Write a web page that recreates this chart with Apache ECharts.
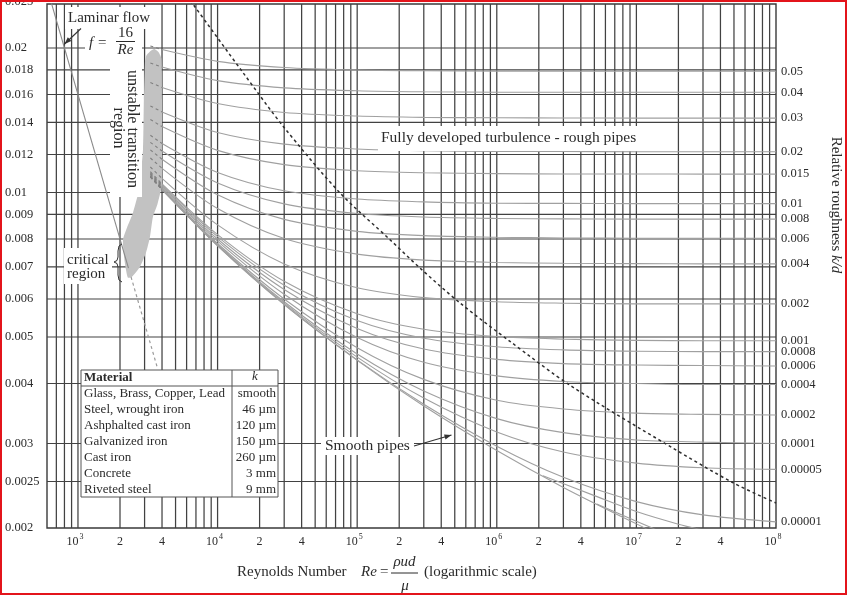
<!DOCTYPE html>
<html><head><meta charset="utf-8">
<script src="https://cdn.jsdelivr.net/npm/echarts@6/dist/echarts.min.js"></script>
<style>html,body{margin:0;padding:0;background:#fff}#c{width:848px;height:596px}</style>
</head><body><div id="c"></div>
<script>
const FONT = '"Liberation Serif","Times New Roman",serif';
const X_MIN = 600, X_MAX = 1e8, Y_MIN = 0.002, Y_MAX = 0.0247;

// Reynolds numbers at which the friction-factor curves were read
const reSample = [3300, 4000, 1e4, 3e4, 1e5, 3e5, 1e6, 3e6, 1e7, 3e7, 1e8];
// Fanning friction factor read for each relative roughness k/d
const f_0_05    = [0.02020,0.01985,0.01876,0.01822,0.01800,0.01793,0.01790,0.01789,0.01789,0.01789,0.01789];
const f_0_04    = [0.01862,0.01825,0.01710,0.01652,0.01629,0.01621,0.01618,0.01617,0.01617,0.01617,0.01617];
const f_0_03    = [0.01695,0.01655,0.01532,0.01468,0.01443,0.01434,0.01431,0.01430,0.01429,0.01429,0.01429];
const f_0_02    = [0.01515,0.01472,0.01334,0.01261,0.01232,0.01222,0.01218,0.01217,0.01216,0.01216,0.01216];
const f_0_015   = [0.01419,0.01372,0.01224,0.01143,0.01110,0.01099,0.01095,0.01093,0.01093,0.01092,0.01092];
const f_0_01    = [0.01316,0.01265,0.01101,0.01008,0.00969,0.00956,0.00950,0.00949,0.00948,0.00948,0.00948];
const f_0_008   = [0.01272,0.01220,0.01047,0.00947,0.00904,0.00889,0.00883,0.00881,0.00880,0.00880,0.00880];
const f_0_006   = [0.01227,0.01173,0.00989,0.00879,0.00830,0.00813,0.00807,0.00804,0.00803,0.00803,0.00803];
const f_0_004   = [0.01180,0.01123,0.00926,0.00802,0.00744,0.00723,0.00715,0.00712,0.00711,0.00710,0.00710];
const f_0_002   = [0.01130,0.01070,0.00856,0.00710,0.00633,0.00604,0.00592,0.00588,0.00586,0.00586,0.00586];
const f_0_001   = [0.01105,0.01042,0.00817,0.00653,0.00559,0.00519,0.00501,0.00495,0.00492,0.00491,0.00491];
const f_0_0008  = [0.01099,0.01037,0.00809,0.00641,0.00541,0.00497,0.00477,0.00470,0.00467,0.00466,0.00466];
const f_0_0006  = [0.01094,0.01031,0.00800,0.00628,0.00521,0.00472,0.00449,0.00440,0.00437,0.00436,0.00435];
const f_0_0004  = [0.01089,0.01025,0.00792,0.00614,0.00499,0.00443,0.00415,0.00404,0.00400,0.00398,0.00398];
const f_0_0002  = [0.01083,0.01020,0.00783,0.00600,0.00475,0.00408,0.00369,0.00354,0.00347,0.00345,0.00344];
const f_0_0001  = [0.01081,0.01017,0.00779,0.00592,0.00461,0.00386,0.00338,0.00316,0.00305,0.00302,0.00300];
const f_0_00005 = [0.01079,0.01015,0.00777,0.00588,0.00454,0.00373,0.00317,0.00288,0.00273,0.00267,0.00265];
const f_0_00001 = [0.01078,0.01014,0.00775,0.00585,0.00448,0.00362,0.00296,0.00255,0.00227,0.00213,0.00206];
const f_smooth  = [0.01078,0.01014,0.00774,0.00584,0.00447,0.00359,0.00290,0.00243,0.00204,0.00175,0.00151];
const roughNames = ['0.05','0.04','0.03','0.02','0.015','0.01','0.008','0.006','0.004','0.002','0.001','0.0008','0.0006','0.0004','0.0002','0.0001','0.00005','0.00001'];

// unlabeled branches leaving the smooth-pipe curve near the bottom
const branchARe = [2.14e6, 5e6, 1e7, 2e7, 3e7];
const branchAF  = [0.00257, 0.002336, 0.002164, 0.002037, 0.001982];
const branchBRe = [5.2e6, 1e7, 2e7];
const branchBF  = [0.002245, 0.002065, 0.001896];

// laminar line f = 16/Re
const laminarRe = [600, 2300];
const laminarF  = [0.02667, 0.00696];
const laminarDashRe = [2400, 3700];
const laminarDashF  = [0.00667, 0.00432];

// dashed limit of fully developed turbulence
const boundaryRe = [6000, 6630, 15280, 29550, 75300, 171800, 281800, 545000, 1.243e6, 3.44e6, 1.741e7, 4.946e7, 1e8];
const boundaryF  = [0.0257, 0.02473, 0.01774, 0.01373, 0.00998, 0.007974, 0.00696, 0.005887, 0.004896, 0.003945, 0.002958, 0.002483, 0.002255];

// unstable transition region outline
const transRe = [3240,3503,3780,3960,4000,4000,3990,3700,3444,3280,3069,2781,2437,2282,2207,2135,2100,2244,2477,2735,2922,2971,3020,3090];
const transF  = [0.01960,0.01990,0.01960,0.01900,0.01560,0.01228,0.01038,0.009432,0.008904,0.008091,0.007491,0.007005,0.006677,0.006645,0.006905,0.007384,0.007976,0.008448,0.009077,0.01014,0.01228,0.01560,0.01873,0.01930];

// grid / tick values
const gridMantissas = [1,2,3,4,5,6,7,8,9];
const gridDecades = [100,1e3,1e4,1e5,1e6,1e7];
const yGrid = [0.0025,0.003,0.004,0.005,0.006,0.007,0.008,0.009,0.01,0.012,0.014,0.016,0.018,0.02];
const yLabelVals = [0.002,0.0025,0.003,0.004,0.005,0.006,0.007,0.008,0.009,0.01,0.012,0.014,0.016,0.018,0.02,0.025];
const yLabelText = ['0.002','0.0025','0.003','0.004','0.005','0.006','0.007','0.008','0.009','0.01','0.012','0.014','0.016','0.018','0.02','0.025'];
const xLabelVals = [1e3,2e3,4e3,1e4,2e4,4e4,1e5,2e5,4e5,1e6,2e6,4e6,1e7,2e7,4e7,1e8];
const xLabelText = ['10^3','2','4','10^4','2','4','10^5','2','4','10^6','2','4','10^7','2','4','10^8'];

// material table
const materials = ['Glass, Brass, Copper, Lead','Steel, wrought iron','Ashphalted cast iron','Galvanized iron','Cast iron','Concrete','Riveted steel'];
const materialK = ['smooth','46 \u00b5m','120 \u00b5m','150 \u00b5m','260 \u00b5m','3 mm','9 mm'];

const xGrid = [];
gridDecades.forEach(d => gridMantissas.forEach(m => { const v = m * d; if (v > X_MIN && v < X_MAX) xGrid.push(v); }));

const TXT = '#2b2b2b';
const GRIDC = '#424242';
const series = [];

series.push({
  type: 'custom', z: 1, silent: true, clip: false,
  data: xGrid.map(v => [v, Y_MIN]),
  renderItem: (params, api) => {
    const cs = params.coordSys; const x = api.coord([api.value(0), Y_MIN])[0];
    return {type: 'line', shape: {x1: x, y1: cs.y, x2: x, y2: cs.y + cs.height}, style: {stroke: GRIDC, lineWidth: 1.25}};
  }
});
series.push({
  type: 'custom', z: 1, silent: true, clip: false,
  data: yGrid.map(v => [X_MIN, v]),
  renderItem: (params, api) => {
    const cs = params.coordSys; const y = api.coord([X_MIN, api.value(1)])[1];
    return {type: 'line', shape: {x1: cs.x, y1: y, x2: cs.x + cs.width, y2: y}, style: {stroke: GRIDC, lineWidth: 1.2}};
  }
});
// transition region
series.push({
  type: 'custom', z: 2, silent: true,
  data: [[transRe[0], transF[0]]],
  renderItem: (params, api) => {
    const pts = transRe.map((r, i) => api.coord([r, transF[i]]));
    return {type: 'polygon', shape: {points: pts, smooth: 0.2}, style: {fill: '#c2c2c2'}};
  }
});
// y labels
series.push({
  type: 'custom', z: 5, silent: true, clip: false,
  data: yLabelVals.map(v => [X_MIN, v]),
  renderItem: (params, api) => {
    const y = api.coord([X_MIN, api.value(1)])[1];
    return {type: 'text', x: 5, y: y, style: {text: yLabelText[params.dataIndex], font: '12.5px ' + FONT, fill: TXT, align: 'left', verticalAlign: 'middle'}};
  }
});
// x labels
series.push({
  type: 'custom', z: 5, silent: true, clip: false,
  data: xLabelVals.map(v => [v, Y_MIN]),
  renderItem: (params, api) => {
    const p = api.coord([api.value(0), Y_MIN]);
    const t = xLabelText[params.dataIndex];
    const y = p[1] + 14;
    if (t.indexOf('^') >= 0) {
      const parts = t.split('^');
      return {type: 'group', children: [
        {type: 'text', x: p[0] + 0.5, y: y, style: {text: parts[0], font: '12px ' + FONT, fill: TXT, align: 'right', verticalAlign: 'middle'}},
        {type: 'text', x: p[0] + 1.5, y: y - 5, style: {text: parts[1], font: '8px ' + FONT, fill: TXT, align: 'left', verticalAlign: 'middle'}}
      ]};
    }
    return {type: 'text', x: p[0], y: y, style: {text: t, font: '12px ' + FONT, fill: TXT, align: 'center', verticalAlign: 'middle'}};
  }
});

const roughArrays = [f_0_05,f_0_04,f_0_03,f_0_02,f_0_015,f_0_01,f_0_008,f_0_006,f_0_004,f_0_002,f_0_001,f_0_0008,f_0_0006,f_0_0004,f_0_0002,f_0_0001,f_0_00005,f_0_00001];
const CURVE = '#a0a0a0';
function addCurve(arr, name) {
  series.push({
    type: 'line', name: name || 'smooth', z: 3, symbol: 'none', smooth: 0.3, silent: true,
    data: reSample.slice(1).map((r, j) => [r, arr[j + 1]]),
    lineStyle: {color: CURVE, width: 1.1},
    endLabel: name ? {show: true, formatter: () => name, color: TXT, fontFamily: FONT, fontSize: 12.5, distance: 5} : {show: false}
  });
  series.push({
    type: 'line', z: 3, symbol: 'none', silent: true,
    data: [[reSample[0], arr[0]], [reSample[1], arr[1]]],
    lineStyle: {color: '#808080', width: 1.1, type: [3, 3]}
  });
}
roughArrays.forEach((a, i) => addCurve(a, roughNames[i]));
addCurve(f_smooth, null);
[[branchARe, branchAF], [branchBRe, branchBF]].forEach(([rs, fs]) => {
  series.push({type: 'line', z: 3, symbol: 'none', smooth: 0.3, silent: true,
    data: rs.map((r, i) => [r, fs[i]]), lineStyle: {color: CURVE, width: 1.1}});
});

series.push({type: 'line', z: 3, symbol: 'none', silent: true,
  data: laminarRe.map((r, i) => [r, laminarF[i]]), lineStyle: {color: '#8a8a8a', width: 1.1}});
series.push({type: 'line', z: 3, symbol: 'none', silent: true,
  data: laminarDashRe.map((r, i) => [r, laminarDashF[i]]), lineStyle: {color: '#9a9a9a', width: 1.2, type: [3, 3]}});
series.push({type: 'line', z: 4, symbol: 'none', smooth: 0.3, silent: true,
  data: boundaryRe.map((r, i) => [r, boundaryF[i]]), lineStyle: {color: '#2e2e2e', width: 1.5, type: [3, 3]}});

// annotations
const g = [];
function bg(x, y, w, h) { g.push({type: 'rect', z: 50, shape: {x, y, width: w, height: h}, style: {fill: '#fff'}}); }
function txt(x, y, text, size, opts) {
  const el = {type: 'text', z: 60, x, y, style: Object.assign({text, font: size + 'px ' + FONT, fill: TXT, align: 'left', verticalAlign: 'middle'}, (opts && opts.style) || {})};
  if (opts && opts.rotation !== undefined) el.rotation = opts.rotation;
  g.push(el);
}
function arrow(x1, y1, x2, y2) {
  g.push({type: 'line', z: 60, shape: {x1, y1, x2, y2}, style: {stroke: '#333', lineWidth: 1.1}});
  const a = Math.atan2(y2 - y1, x2 - x1), L = 7, W = 2.6;
  const bx = x2 - L * Math.cos(a), by = y2 - L * Math.sin(a);
  g.push({type: 'polygon', z: 60, shape: {points: [[x2, y2], [bx + W * Math.sin(a), by - W * Math.cos(a)], [bx - W * Math.sin(a), by + W * Math.cos(a)]]}, style: {fill: '#333'}});
}
// Laminar flow
bg(65, 7, 92, 22); txt(68, 18, 'Laminar flow', 15);
bg(85, 25, 52, 34);
txt(89, 43, 'f', 15, {style: {font: 'italic 15px ' + FONT}}); txt(98, 43, '=', 15);
txt(125.5, 33, '16', 15, {style: {align: 'center'}});
g.push({type: 'line', z: 60, shape: {x1: 116, y1: 41.5, x2: 135, y2: 41.5}, style: {stroke: TXT, lineWidth: 1}});
txt(125.5, 50, 'Re', 15, {style: {align: 'center', font: 'italic 15px ' + FONT}});
arrow(81, 28.5, 64.5, 44);
// transition
bg(110, 33, 32, 164);
txt(132, 129, 'unstable transition', 16, {rotation: -Math.PI / 2, style: {align: 'center'}});
txt(118, 128, 'region', 16, {rotation: -Math.PI / 2, style: {align: 'center'}});
// critical region
bg(64, 248, 48, 36);
txt(67, 260, 'critical', 15); txt(67, 274.5, 'region', 15);
g.push({type: 'polyline', z: 60, shape: {points: [[122,244],[119,246],[118,251],[118,257],[117,260.5],[114,262],[117,263.5],[118,267],[118,275],[119,280],[122,282]]}, style: {stroke: '#333', fill: null, lineWidth: 1}});
// rough pipes
bg(378, 126, 294, 25); txt(381, 137.5, 'Fully developed turbulence - rough pipes', 15.5);
// smooth pipes
bg(321, 437, 93, 18); txt(325, 445.5, 'Smooth pipes', 15.5);
arrow(414, 446, 451.5, 435);
// table
g.push({type: 'rect', z: 50, shape: {x: 81, y: 370, width: 197, height: 127}, style: {fill: '#fff', stroke: '#555', lineWidth: 1}});
g.push({type: 'line', z: 55, shape: {x1: 232, y1: 370, x2: 232, y2: 497}, style: {stroke: '#555', lineWidth: 1}});
g.push({type: 'line', z: 55, shape: {x1: 81, y1: 386, x2: 278, y2: 386}, style: {stroke: '#555', lineWidth: 1}});
txt(84, 378, 'Material', 13, {style: {font: 'bold 13px ' + FONT}});
txt(255, 377, 'k', 13, {style: {align: 'center', font: 'italic 13px ' + FONT}});
materials.forEach((m, i) => {
  const y = 394 + i * 15.85;
  txt(84, y, m, 13);
  txt(276, y, materialK[i], 13, {style: {align: 'right'}});
});
// axis titles
txt(237, 572.5, 'Reynolds Number', 15);
txt(361, 572.5, 'Re', 15, {style: {font: 'italic 15px ' + FONT}});
txt(380, 572.5, '=', 15);
txt(404.5, 562, '\u03c1ud', 15, {style: {align: 'center', font: 'italic 15px ' + FONT}});
g.push({type: 'line', z: 60, shape: {x1: 391, y1: 573, x2: 418, y2: 573}, style: {stroke: TXT, lineWidth: 1}});
txt(405, 586, '\u03bc', 15, {style: {align: 'center', font: 'italic 15px ' + FONT}});
txt(424, 572.5, '(logarithmic scale)', 15);
g.push({type: 'text', z: 60, x: 836, y: 205, rotation: -Math.PI / 2,
  style: {text: 'Relative roughness {i|k/d}', font: '15px ' + FONT, fill: TXT, align: 'center', verticalAlign: 'middle',
    rich: {i: {font: 'italic 15px ' + FONT, fill: TXT}}}});
// screenshot frame
g.push({type: 'rect', z: 100, shape: {x: 1, y: 1, width: 845, height: 593}, style: {fill: null, stroke: '#e3141b', lineWidth: 2}});

const chart = echarts.init(document.getElementById('c'), null, {renderer: 'canvas'});
chart.setOption({
  animation: false,
  backgroundColor: '#fff',
  grid: {left: 47, top: 4, width: 729, height: 524, show: true, borderColor: '#3a3a3a', borderWidth: 1.4, backgroundColor: 'transparent'},
  xAxis: {type: 'log', logBase: 10, min: X_MIN, max: X_MAX, show: false},
  yAxis: {type: 'log', logBase: 10, min: Y_MIN, max: Y_MAX, show: false},
  series: series,
  graphic: {elements: g}
});
</script></body></html>
